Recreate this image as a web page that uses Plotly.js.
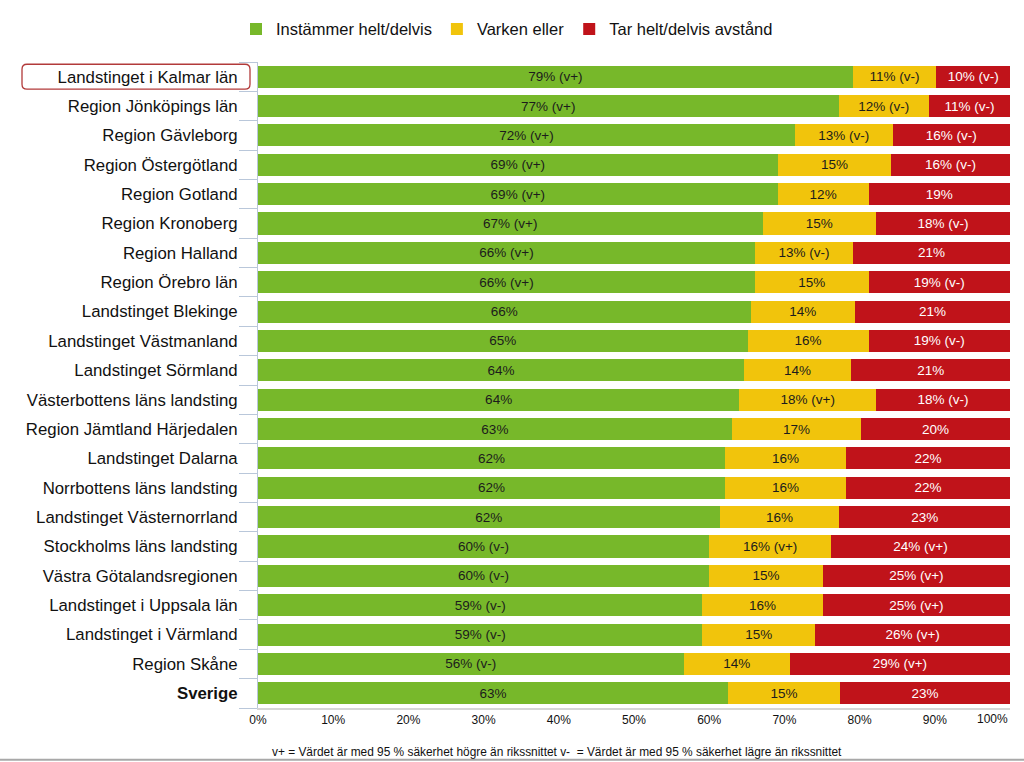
<!DOCTYPE html>
<html>
<head>
<meta charset="utf-8">
<script src="https://cdn.plot.ly/plotly-3.0.1.min.js"></script>
<style>
  html, body { margin: 0; padding: 0; background: #ffffff; }
  #chart { width: 1024px; height: 762px; }
</style>
</head>
<body>
<div id="chart"></div>
<script>
const categories = [
  "Landstinget i Kalmar län",
  "Region Jönköpings län",
  "Region Gävleborg",
  "Region Östergötland",
  "Region Gotland",
  "Region Kronoberg",
  "Region Halland",
  "Region Örebro län",
  "Landstinget Blekinge",
  "Landstinget Västmanland",
  "Landstinget Sörmland",
  "Västerbottens läns landsting",
  "Region Jämtland Härjedalen",
  "Landstinget Dalarna",
  "Norrbottens läns landsting",
  "Landstinget Västernorrland",
  "Stockholms läns landsting",
  "Västra Götalandsregionen",
  "Landstinget i Uppsala län",
  "Landstinget i Värmland",
  "Region Skåne",
  "Sverige"
];

const seriesNames = ["Instämmer helt/delvis", "Varken eller", "Tar helt/delvis avstånd"];

const agreeValues = [79.1, 77.2, 71.4, 69.1, 69.1, 67.1, 66.1, 66.1, 65.5, 65.1, 64.6,
                     64.0, 63.0, 62.1, 62.1, 61.4, 60.0, 60.0, 59.1, 59.1, 56.6, 62.5];
const neutralValues = [11.1, 12.0, 13.0, 15.1, 12.1, 15.1, 13.0, 15.1, 13.9, 16.1, 14.3,
                       18.2, 17.2, 16.1, 16.1, 15.9, 16.2, 15.1, 16.0, 15.0, 14.1, 14.9];
const disagreeValues = [9.8, 10.8, 15.6, 15.8, 18.8, 17.8, 20.9, 18.8, 20.6, 18.8, 21.1,
                        17.8, 19.8, 21.8, 21.8, 22.7, 23.8, 24.9, 24.9, 25.9, 29.3, 22.6];

const agreeLabels = ["79% (v+)", "77% (v+)", "72% (v+)", "69% (v+)", "69% (v+)", "67% (v+)",
  "66% (v+)", "66% (v+)", "66%", "65%", "64%", "64%", "63%", "62%", "62%", "62%",
  "60% (v-)", "60% (v-)", "59% (v-)", "59% (v-)", "56% (v-)", "63%"];
const neutralLabels = ["11% (v-)", "12% (v-)", "13% (v-)", "15%", "12%", "15%", "13% (v-)",
  "15%", "14%", "16%", "14%", "18% (v+)", "17%", "16%", "16%", "16%", "16% (v+)",
  "15%", "16%", "15%", "14%", "15%"];
const disagreeLabels = ["10% (v-)", "11% (v-)", "16% (v-)", "16% (v-)", "19%", "18% (v-)",
  "21%", "19% (v-)", "21%", "19% (v-)", "21%", "18% (v-)", "20%", "22%", "22%", "23%",
  "24% (v+)", "25% (v+)", "25% (v+)", "26% (v+)", "29% (v+)", "23%"];

const xTickValues = [0, 10, 20, 30, 40, 50, 60, 70, 80, 90, 100];
const xTickLabels = ["0%", "10%", "20%", "30%", "40%", "50%", "60%", "70%", "80%", "90%", "100%"];

const footnote = "v+ = Värdet är med 95 % säkerhet högre än rikssnittet v-  = Värdet är med 95 % säkerhet lägre än rikssnittet";
const highlighted = "Landstinget i Kalmar län";
const totalRow = "Sverige";

const FONT = "Liberation Sans, Arial, sans-serif";
const colors = ["#77b82a", "#f1c40c", "#c0131a"];
const textColors = ["#1c1c1c", "#1c1c1c", "#ffffff"];
const valueSets = [agreeValues, neutralValues, disagreeValues];
const labelSets = [agreeLabels, neutralLabels, disagreeLabels];

const traces = seriesNames.map((name, i) => ({
  type: "bar",
  orientation: "h",
  name: name,
  y: categories,
  x: valueSets[i],
  text: labelSets[i],
  textposition: "inside",
  insidetextanchor: "middle",
  constraintext: "none",
  textangle: 0,
  textfont: { family: FONT, size: 13.5, color: textColors[i] },
  marker: { color: colors[i], line: { width: 0 } },
  hoverinfo: "skip"
}));

// plot geometry (used only for decorative shapes / placement)
const M = { l: 258, r: 14, t: 58, b: 54 };
const W = 1024, H = 762;
const pw = W - M.l - M.r, ph = H - M.t - M.b;
const px = x => (x - M.l) / pw;
const py = y => 1 - (y - M.t) / ph;

// rounded highlight box around the first category label
const rowH = ph / categories.length;
const hiIdx = categories.indexOf(highlighted);
const cy = M.t + rowH * (hiIdx + 0.5);
const bx0 = 22, bx1 = 250, by0 = cy - 12.5, by1 = cy + 12.5, r = 5;
const boxPath = [
  `M ${px(bx0 + r)} ${py(by0)}`,
  `L ${px(bx1 - r)} ${py(by0)}`,
  `Q ${px(bx1)} ${py(by0)} ${px(bx1)} ${py(by0 + r)}`,
  `L ${px(bx1)} ${py(by1 - r)}`,
  `Q ${px(bx1)} ${py(by1)} ${px(bx1 - r)} ${py(by1)}`,
  `L ${px(bx0 + r)} ${py(by1)}`,
  `Q ${px(bx0)} ${py(by1)} ${px(bx0)} ${py(by1 - r)}`,
  `L ${px(bx0)} ${py(by0 + r)}`,
  `Q ${px(bx0)} ${py(by0)} ${px(bx0 + r)} ${py(by0)}`,
  "Z"
].join(" ");

const lastTick = xTickValues[xTickValues.length - 1];

const layout = {
  width: W,
  height: H,
  margin: M,
  paper_bgcolor: "#ffffff",
  plot_bgcolor: "#ffffff",
  barmode: "stack",
  bargap: 0.25,
  font: { family: FONT, color: "#111111" },
  showlegend: true,
  legend: {
    orientation: "h",
    x: px(236), xanchor: "left",
    y: py(25), yanchor: "middle",
    font: { family: FONT, size: 16.5, color: "#111111" },
    traceorder: "normal",
    itemclick: false
  },
  xaxis: {
    range: [0, 100],
    tickmode: "array",
    tickvals: xTickValues.slice(0, -1),
    ticktext: xTickLabels.slice(0, -1),
    showgrid: false,
    zeroline: false,
    showline: true,
    linecolor: "#d6d6d6",
    linewidth: 2,
    ticks: "",
    tickfont: { family: FONT, size: 12, color: "#111111" },
    fixedrange: true
  },
  yaxis: {
    type: "category",
    autorange: "reversed",
    tickmode: "array",
    tickvals: categories,
    ticktext: categories.map(c => c === totalRow ? "<b>" + c + "</b>" : c),
    tickson: "boundaries",
    ticks: "outside",
    ticklen: 18,
    tickcolor: "#b9c7da",
    tickwidth: 1,
    ticklabelstandoff: 16,
    showline: true,
    linecolor: "#b9c7da",
    linewidth: 1,
    showgrid: false,
    zeroline: false,
    tickfont: { family: FONT, size: 16.8, color: "#111111" },
    fixedrange: true
  },
  shapes: [
    {
      type: "path", xref: "paper", yref: "paper",
      path: boxPath,
      line: { color: "#b23a3a", width: 1.3 },
      fillcolor: "rgba(0,0,0,0)"
    },
    {
      type: "line", xref: "paper", yref: "paper",
      x0: px(0), x1: px(W), y0: py(760), y1: py(760),
      line: { color: "#a8a8a8", width: 2 }
    }
  ],
  annotations: [
    {
      xref: "x", yref: "paper",
      x: lastTick, y: py(719),
      xanchor: "right", yanchor: "middle",
      text: xTickLabels[xTickLabels.length - 1],
      showarrow: false,
      font: { family: FONT, size: 12, color: "#111111" }
    },
    {
      xref: "paper", yref: "paper",
      x: px(557), y: py(752),
      xanchor: "center", yanchor: "middle",
      text: footnote,
      showarrow: false,
      font: { family: FONT, size: 11.9, color: "#111111" }
    }
  ]
};

Plotly.newPlot("chart", traces, layout, { displayModeBar: false, staticPlot: true });
</script>
</body>
</html>
